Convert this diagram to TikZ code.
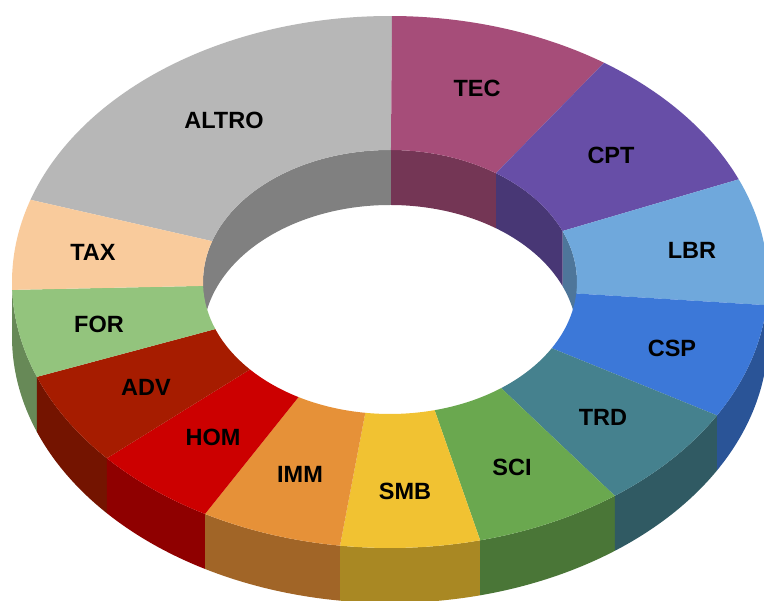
\documentclass[tikz,border=0pt]{standalone}
\usepackage{fontspec}
\setmainfont{Liberation Sans}
\definecolor{cALTRO}{HTML}{B7B7B7}
\definecolor{cTEC}{HTML}{A64D79}
\definecolor{cCPT}{HTML}{674EA7}
\definecolor{cLBR}{HTML}{6FA8DC}
\definecolor{cCSP}{HTML}{3C78D8}
\definecolor{cTRD}{HTML}{45818E}
\definecolor{cSCI}{HTML}{6AA84F}
\definecolor{cSMB}{HTML}{F1C232}
\definecolor{cIMM}{HTML}{E69138}
\definecolor{cHOM}{HTML}{CC0000}
\definecolor{cADV}{HTML}{A61C00}
\definecolor{cFOR}{HTML}{93C47D}
\definecolor{cTAX}{HTML}{F9CB9C}
\def\cx{390}\def\cy{319}
\def\RX{378}\def\RY{266}
\def\rX{187}\def\rY{132}
\def\dep{55}
\newcommand\donutTop[3]{%
  \fill[#3] ({\cx+\RX*cos(#1)},{\cy+\RY*sin(#1)})
    arc[start angle=#1,end angle=#2,x radius=\RX pt,y radius=\RY pt]
    -- ({\cx+\rX*cos(#2)},{\cy+\rY*sin(#2)})
    arc[start angle=#2,end angle=#1,x radius=\rX pt,y radius=\rY pt] -- cycle;}
\newcommand\donutWall[5]{%
  \fill[#5] ({\cx+#3*cos(#1)},{\cy+#4*sin(#1)})
    arc[start angle=#1,end angle=#2,x radius=#3pt,y radius=#4pt]
    -- ++(0,-\dep)
    arc[start angle=#2,end angle=#1,x radius=#3pt,y radius=#4pt] -- cycle;}
\tikzset{lbl/.style={font=\bfseries\fontsize{23.5}{26}\selectfont, text=black, inner sep=0pt}}
\begin{document}
\begin{tikzpicture}[x=1pt,y=1pt]
\useasboundingbox (0,0) rectangle (764,601);
\clip (0,0) rectangle (764,601);
\fill[white] (0,0) rectangle (764,601);
% inner back walls
\donutWall{0}{22.7}{\rX}{\rY}{cLBR!70!black}
\donutWall{22.7}{55.5}{\rX}{\rY}{cCPT!70!black}
\donutWall{55.5}{89.7}{\rX}{\rY}{cTEC!70!black}
\donutWall{89.7}{162}{\rX}{\rY}{cALTRO!70!black}
\donutWall{162}{180}{\rX}{\rY}{cALTRO!70!black}
% outer front walls
\donutWall{-180}{-178.3}{\RX}{\RY}{cTAX!70!black}
\donutWall{-178.3}{-159.1}{\RX}{\RY}{cFOR!70!black}
\donutWall{-159.1}{-138.5}{\RX}{\RY}{cADV!70!black}
\donutWall{-138.5}{-119.3}{\RX}{\RY}{cHOM!70!black}
\donutWall{-119.3}{-97.6}{\RX}{\RY}{cIMM!70!black}
\donutWall{-97.6}{-76.2}{\RX}{\RY}{cSMB!70!black}
\donutWall{-76.2}{-53.5}{\RX}{\RY}{cSCI!70!black}
\donutWall{-53.5}{-30.1}{\RX}{\RY}{cTRD!70!black}
\donutWall{-30.1}{-5}{\RX}{\RY}{cCSP!70!black}
\donutWall{-5}{0}{\RX}{\RY}{cLBR!70!black}
% top faces
\donutTop{89.7}{162}{cALTRO}
\donutTop{55.5}{89.7}{cTEC}
\donutTop{22.7}{55.5}{cCPT}
\donutTop{-5}{22.7}{cLBR}
\donutTop{-30.1}{-5}{cCSP}
\donutTop{-53.5}{-30.1}{cTRD}
\donutTop{-76.2}{-53.5}{cSCI}
\donutTop{-97.6}{-76.2}{cSMB}
\donutTop{-119.3}{-97.6}{cIMM}
\donutTop{-138.5}{-119.3}{cHOM}
\donutTop{-159.1}{-138.5}{cADV}
\donutTop{-178.3}{-159.1}{cFOR}
\donutTop{162}{181.7}{cTAX}
% labels
\node[lbl] (ALTRO) at (224,481) {ALTRO};
\node[lbl] (TEC) at (477,513) {TEC};
\node[lbl] (CPT) at (611,446) {CPT};
\node[lbl] (LBR) at (692,351) {LBR};
\node[lbl] (CSP) at (672,253) {CSP};
\node[lbl] (TRD) at (603,184) {TRD};
\node[lbl] (SCI) at (512,134) {SCI};
\node[lbl] (SMB) at (405,110) {SMB};
\node[lbl] (IMM) at (300,127) {IMM};
\node[lbl] (HOM) at (213,164) {HOM};
\node[lbl] (ADV) at (146,214) {ADV};
\node[lbl] (FOR) at (99,277) {FOR};
\node[lbl] (TAX) at (93,349) {TAX};
\end{tikzpicture}
\end{document}
